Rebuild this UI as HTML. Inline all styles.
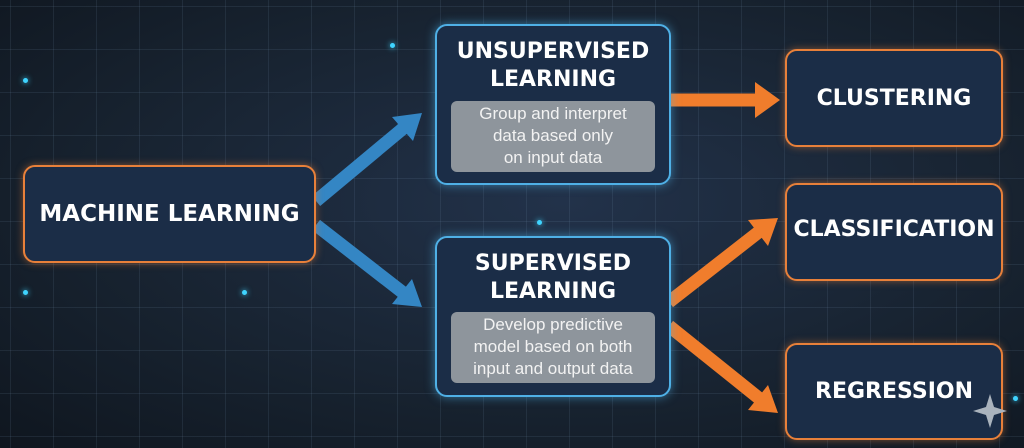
<!DOCTYPE html>
<html><head><style>
body{margin:0;width:1024px;height:448px;overflow:hidden;background:radial-gradient(ellipse at 55% 45%,#22324a 0%,#17222f 60%,#0f161f 100%);font-family:"DejaVu Sans","Liberation Sans",sans-serif;}
.grid{position:absolute;inset:0;background-image:linear-gradient(rgba(120,150,180,0.13) 1px,transparent 1px),linear-gradient(90deg,rgba(120,150,180,0.13) 1px,transparent 1px);background-size:43px 43px;background-position:10px 6px;}
.box{position:absolute;box-sizing:border-box;border-radius:12px;background:#1b2d47;color:#fff;font-weight:bold;text-align:center;}
.o{border:2px solid #e8803a;box-shadow:0 0 8px rgba(232,128,58,.5);display:flex;align-items:center;justify-content:center;font-size:22px;}
.b{border:2px solid #4fb0e6;box-shadow:0 0 10px rgba(79,176,230,.6);font-size:22px;line-height:28px;padding-top:12px;}
.g{position:absolute;left:14px;right:14px;background:#8e959c;border-radius:6px;color:#f2f2f2;font-weight:normal;font-family:"Liberation Sans",sans-serif;font-size:17px;line-height:22px;padding:2px 0 3px;}
.dot{position:absolute;width:5px;height:5px;border-radius:50%;background:#3fd4ff;box-shadow:0 0 6px #3fd4ff;}
</style></head><body>
<div class="grid"></div>
<div class="dot" style="left:23px;top:78px"></div>
<div class="dot" style="left:23px;top:290px"></div>
<div class="dot" style="left:242px;top:290px"></div>
<div class="dot" style="left:537px;top:220px"></div>
<div class="dot" style="left:390px;top:43px"></div>
<div class="dot" style="left:1013px;top:396px"></div>
<svg width="1024" height="448" style="position:absolute;left:0;top:0">
<g stroke="#3486c4" stroke-width="13" fill="#3486c4">
<line x1="316" y1="201" x2="406" y2="126"/>
<line x1="316" y1="225" x2="406" y2="295"/>
</g>
<g fill="#3486c4">
<polygon points="422,113 413,141 392,117"/>
<polygon points="422,307 392,304 412,279"/>
</g>
<g stroke="#f07d2c" stroke-width="13" fill="#f07d2c">
<line x1="669" y1="100" x2="760" y2="100"/>
<line x1="669" y1="302" x2="760" y2="231"/>
<line x1="669" y1="326" x2="760" y2="399"/>
</g>
<g fill="#f07d2c">
<polygon points="780,100 755,82 755,118"/>
<polygon points="778,218 768,246 748,220"/>
<polygon points="778,413 748,410 768,385"/>
</g>
</svg>
<div class="box o" style="left:23px;top:165px;width:293px;height:98px;font-size:23px">MACHINE LEARNING</div>
<div class="box b" style="left:435px;top:24px;width:236px;height:161px">UNSUPERVISED<br>LEARNING
<div class="g" style="top:75px">Group and interpret<br>data based only<br>on input data</div></div>
<div class="box b" style="left:435px;top:236px;width:236px;height:161px">SUPERVISED<br>LEARNING
<div class="g" style="top:74px">Develop predictive<br>model based on both<br>input and output data</div></div>
<div class="box o" style="left:785px;top:49px;width:218px;height:98px">CLUSTERING</div>
<div class="box o" style="left:785px;top:183px;width:218px;height:98px;align-items:flex-start;padding-top:32px">CLASSIFICATION</div>
<div class="box o" style="left:785px;top:343px;width:218px;height:97px">REGRESSION</div>
<svg width="1024" height="448" style="position:absolute;left:0;top:0">
<polygon points="990,394 994,407 1007,411 994,415 990,428 986,415 973,411 986,407" fill="#aab3bd"/>
</svg>
</body></html>
